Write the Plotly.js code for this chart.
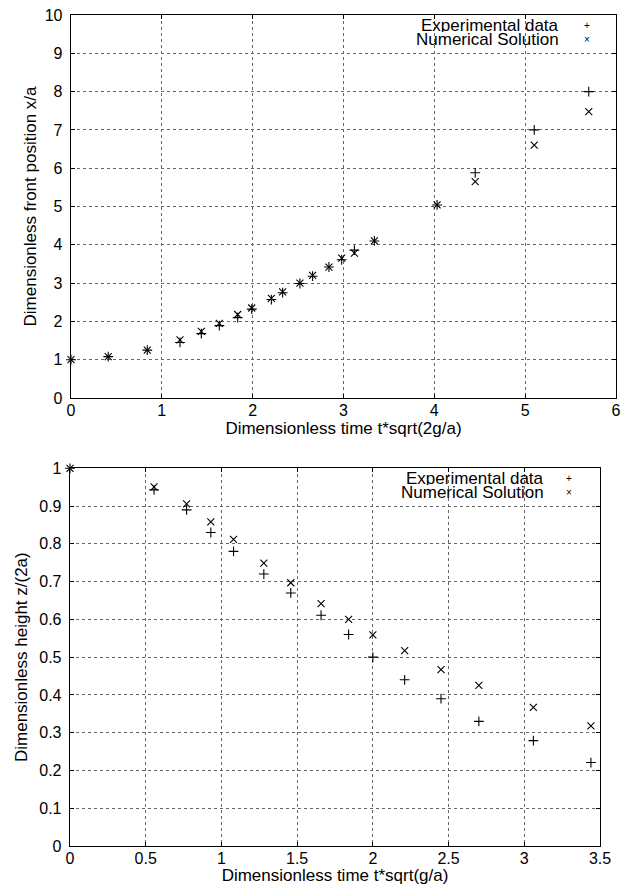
<!DOCTYPE html>
<html>
<head>
<meta charset="utf-8">
<script src="https://cdn.plot.ly/plotly-3.0.1.min.js"></script>
<style>html,body{margin:0;padding:0;background:#fff}#chart{width:623px;height:885px}</style>
</head>
<body>
<div id="chart"></div>
<script>
// Top chart: front position
const frontTime = [0, 0.41, 0.84, 1.20, 1.435, 1.633, 1.835, 1.99, 2.206, 2.33, 2.52, 2.66, 2.84, 2.98, 3.12, 3.34, 4.03, 4.45, 5.10, 5.70];
const frontExp  = [1.0, 1.08, 1.25, 1.45, 1.68, 1.89, 2.10, 2.32, 2.57, 2.75, 2.99, 3.18, 3.42, 3.61, 3.86, 4.10, 5.04, 5.88, 7.0, 8.0];
const frontNum  = [1.0, 1.08, 1.25, 1.52, 1.74, 1.95, 2.18, 2.35, 2.60, 2.77, 3.00, 3.20, 3.42, 3.65, 3.78, 4.10, 5.04, 5.65, 6.6, 7.48];

// Bottom chart: height
const heightTime = [0, 0.555, 0.77, 0.93, 1.08, 1.28, 1.458, 1.658, 1.84, 2.0, 2.21, 2.45, 2.70, 3.06, 3.44];
const heightExp  = [1.0, 0.943, 0.89, 0.83, 0.78, 0.72, 0.67, 0.611, 0.56, 0.50, 0.44, 0.39, 0.33, 0.279, 0.221];
const heightNum  = [1.0, 0.951, 0.906, 0.858, 0.812, 0.749, 0.697, 0.642, 0.60, 0.559, 0.517, 0.467, 0.425, 0.367, 0.318];

const seriesNames = ["Experimental data", "Numerical Solution"];
const topTicksX = [0,1,2,3,4,5,6];
const topTicksY = [0,1,2,3,4,5,6,7,8,9,10];
const botTicksX = [0,0.5,1,1.5,2,2.5,3,3.5];
const botTicksY = [0,0.1,0.2,0.3,0.4,0.5,0.6,0.7,0.8,0.9,1];

const FONT = "Liberation Sans, Arial, Helvetica, sans-serif";
const FS = 17;

function mk(x, y, sym, xa, ya, name) {
  return {
    x: x, y: y, xaxis: xa, yaxis: ya, type: "scatter", mode: "markers", name: name,
    showlegend: false, cliponaxis: false,
    marker: {symbol: sym, size: 7, color: "#000", line: {color: "#000", width: 1.1}}
  };
}

const data = [
  mk(frontTime, frontExp, "cross-thin", "x", "y", seriesNames[0]),
  mk(frontTime, frontNum, "x-thin", "x", "y", seriesNames[1]),
  mk(heightTime, heightExp, "cross-thin", "x2", "y2", seriesNames[0]),
  mk(heightTime, heightNum, "x-thin", "x2", "y2", seriesNames[1])
];

function axis(extra) {
  return Object.assign({
    showline: true, linecolor: "#000", linewidth: 1.3, mirror: "ticks",
    ticks: "inside", ticklen: 4, tickcolor: "#000", tickwidth: 1,
    showgrid: true, gridcolor: "#666", griddash: "dot", gridwidth: 1,
    zeroline: false, tickmode: "array",
    tickfont: {family: FONT, size: 16, color: "#000"}
  }, extra);
}

function leg(xa, ya, x, y, text, size, anchor) {
  return {xref: xa, yref: ya, x: x, y: y, text: text, showarrow: false,
    xanchor: anchor, yanchor: "middle", height: 13, borderpad: 0,
    font: {family: FONT, size: size, color: "#000"}};
}

const layout = {
  width: 623, height: 885,
  margin: {l: 70, r: 7, t: 15, b: 39},
  paper_bgcolor: "#fff", plot_bgcolor: "#fff",
  font: {family: FONT, size: FS, color: "#000"},
  showlegend: false,
  xaxis: axis({domain: [0.0018, 1], range: [0, 6], tickvals: topTicksX, anchor: "y", ticklabelstandoff: -3,
    title: {text: "Dimensionless time t*sqrt(2g/a)", font: {family: FONT, size: FS}, standoff: 0}}),
  yaxis: axis({domain: [0.5391, 1], range: [0, 10], tickvals: topTicksY, anchor: "x", ticklabelstandoff: 4,
    title: {text: "Dimensionless front position x/a", font: {family: FONT, size: FS}, standoff: 3}}),
  xaxis2: axis({domain: [0, 0.9707], range: [0, 3.5], tickvals: botTicksX, anchor: "y2", ticklabelstandoff: -3,
    title: {text: "Dimensionless time t*sqrt(g/a)", font: {family: FONT, size: FS}, standoff: 0}}),
  yaxis2: axis({domain: [0, 0.4545], range: [0, 1], tickvals: botTicksY, anchor: "x2", ticklabelstandoff: 4,
    title: {text: "Dimensionless height z/(2a)", font: {family: FONT, size: FS}, standoff: 7}}),
  annotations: [
    leg("x", "y", 5.385, 9.72, seriesNames[0], FS, "right"),
    leg("x", "y", 5.385, 9.37, seriesNames[1], FS, "right"),
    leg("x", "y", 5.68, 9.72, "+", 10, "center"),
    leg("x", "y", 5.68, 9.37, "×", 10, "center"),
    leg("x2", "y2", 3.137, 0.972, seriesNames[0], FS, "right"),
    leg("x2", "y2", 3.137, 0.935, seriesNames[1], FS, "right"),
    leg("x2", "y2", 3.296, 0.972, "+", 10, "center"),
    leg("x2", "y2", 3.296, 0.935, "×", 10, "center")
  ]
};

Plotly.newPlot("chart", data, layout, {displayModeBar: false, staticPlot: true});
</script>
</body>
</html>
